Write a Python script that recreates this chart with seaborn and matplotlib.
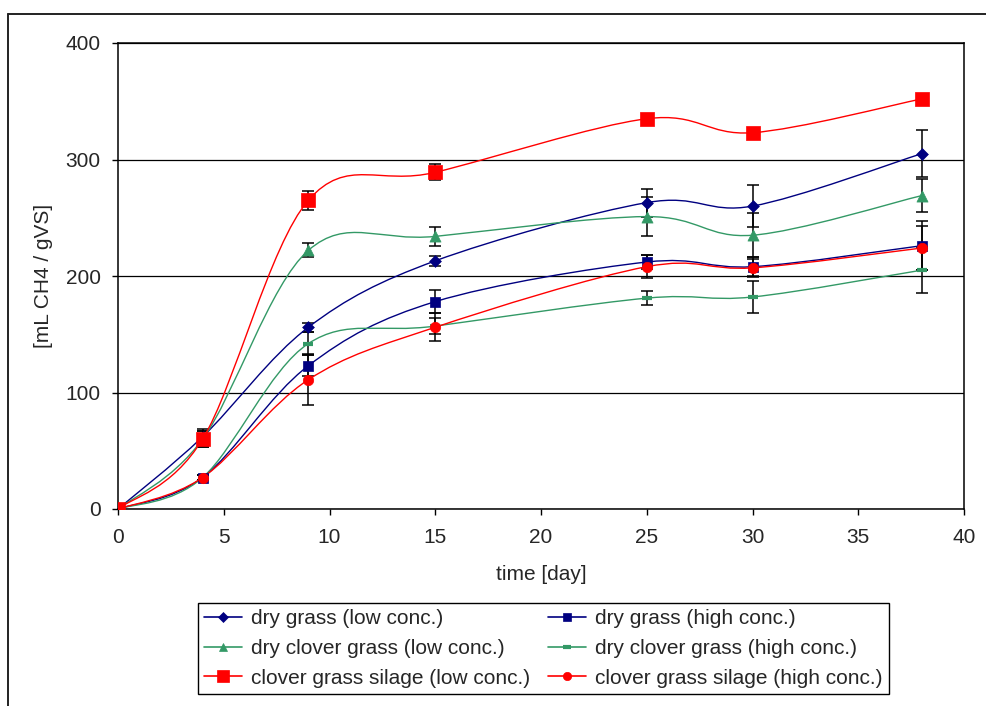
import matplotlib
matplotlib.use("Agg")
import matplotlib.pyplot as plt
import numpy as np
import seaborn as sns
from matplotlib.path import Path
from matplotlib.patches import PathPatch
from matplotlib.lines import Line2D

# sampling days
days = [0, 4, 9, 15, 25, 30, 38]

# methane yield [mL CH4 / gVS] and error bars
dry_grass_low = [0, 62, 156, 213, 263, 260, 305]
dry_grass_low_err = [0, 7, 4, 4, 12, 18, 20]
dry_grass_high = [0, 27, 123, 178, 212, 208, 226]
dry_grass_high_err = [0, 2, 9, 10, 6, 8, 21]
clover_low = [0, 60, 222, 234, 251, 235, 269]
clover_low_err = [0, 7, 6, 8, 17, 19, 14]
clover_high = [0, 27, 142, 157, 181, 182, 205]
clover_high_err = [0, 2, 10, 7, 6, 14, 20]
silage_low = [0, 60, 265, 289, 335, 323, 352]
silage_low_err = [0, 7, 8, 7, 1, 2, 4]
silage_high = [0, 27, 111, 156, 208, 207, 224]
silage_high_err = [0, 2, 22, 12, 10, 8, 19]

labels = ['dry grass (low conc.)', 'dry grass (high conc.)',
          'dry clover grass (low conc.)', 'dry clover grass (high conc.)',
          'clover grass silage (low conc.)', 'clover grass silage (high conc.)']

NAVY = '#000080'
GREEN = '#339966'
RED = '#FF0000'

# (values, errors, colour, marker, marker size)
series = [
    (dry_grass_low, dry_grass_low_err, NAVY, 'D', 6),
    (dry_grass_high, dry_grass_high_err, NAVY, 's', 6.5),
    (clover_low, clover_low_err, GREEN, '^', 8),
    (clover_high, clover_high_err, GREEN, '_', 7),
    (silage_low, silage_low_err, RED, 's', 10),
    (silage_high, silage_high_err, RED, 'o', 7.5),
]


def smooth_path(x, y):
    # Excel style smoothed line: cubic bezier segments (catmull-rom tangents)
    x = np.asarray(x, float)
    y = np.asarray(y, float)
    n = len(x)
    verts = [(x[0], y[0])]
    codes = [Path.MOVETO]
    for i in range(n - 1):
        a = i - 1 if i > 0 else i
        d = i + 2 if i + 2 < n else i + 1
        c1 = (x[i] + (x[i + 1] - x[a]) / 6, y[i] + (y[i + 1] - y[a]) / 6)
        c2 = (x[i + 1] - (x[d] - x[i]) / 6, y[i + 1] - (y[d] - y[i]) / 6)
        verts += [c1, c2, (x[i + 1], y[i + 1])]
        codes += [Path.CURVE4] * 3
    return Path(verts, codes)


sns.set_style("white")
plt.rcParams['font.family'] = ['Liberation Sans', 'DejaVu Sans']
plt.rcParams['font.size'] = 15

fig = plt.figure(figsize=(9.86, 7.06), dpi=100)
ax = fig.add_axes([118 / 986, 1 - 509 / 706, (964 - 118) / 986, (509 - 43) / 706])

handles = []
for (vals, err, col, mk, ms), lab in zip(series, labels):
    ax.add_patch(PathPatch(smooth_path(days, vals), facecolor='none', edgecolor=col,
                           lw=1.0, transform=ax.transData, zorder=3))
    ax.errorbar(days, vals, yerr=err, fmt='none', ecolor='black', elinewidth=1.1,
                capsize=4.5, capthick=1.1, zorder=2)
    if mk == '_':
        ax.plot(days, vals, ls='none', marker=mk, ms=ms, mew=3, color=col, zorder=4)
    else:
        sns.scatterplot(x=days, y=vals, marker=mk, s=ms ** 2, color=col,
                        edgecolor=col, linewidth=0.5, ax=ax, zorder=4, legend=False)
    handles.append(Line2D([], [], color=col, lw=1.2, marker=mk, ms=ms * 0.8,
                          mew=3 if mk == '_' else 0.5, mec=col, mfc=col))

ax.set_xlim(0, 40)
ax.set_ylim(0, 400)
ax.set_xticks(range(0, 41, 5))
ax.set_yticks(range(0, 401, 100))
ax.yaxis.grid(True, color='black', lw=0.9)
ax.xaxis.grid(False)
for s in ax.spines.values():
    s.set_color('black')
    s.set_linewidth(1.1)
ax.tick_params(axis='x', direction='out', length=4.5, width=1, color='black', pad=9, labelsize=15)
ax.tick_params(axis='y', direction='out', length=4.5, width=1, color='black', pad=8, labelsize=15)
ax.tick_params(bottom=True, left=True)
ax.set_xlabel('time [day]', fontsize=15, labelpad=13)
ax.set_ylabel('[mL CH4 / gVS]', fontsize=15, labelpad=9)

# legend is filled row by row in the reference, matplotlib fills by column
order = [0, 2, 4, 1, 3, 5]
leg = fig.legend([handles[i] for i in order], [labels[i] for i in order], ncol=2,
                 loc='lower left', mode='expand',
                 bbox_to_anchor=(198 / 986, 12 / 706, (889 - 198) / 986, (694 - 603) / 706),
                 bbox_transform=fig.transFigure, fontsize=15, frameon=True, fancybox=False,
                 edgecolor='black', framealpha=1, handlelength=1.8, handletextpad=0.45,
                 borderaxespad=0, labelspacing=0.52, borderpad=0.3)
leg.get_frame().set_linewidth(1.0)

# outer chart-area frame (clipped at right and bottom)
fig.add_artist(Line2D([8 / 986, 8 / 986], [0, 1 - 14 / 706], transform=fig.transFigure,
                      color='#222222', lw=1.4))
fig.add_artist(Line2D([8 / 986, 1], [1 - 14 / 706, 1 - 14 / 706], transform=fig.transFigure,
                      color='#222222', lw=1.4))

fig.savefig('out.png', dpi=100, facecolor='white')
